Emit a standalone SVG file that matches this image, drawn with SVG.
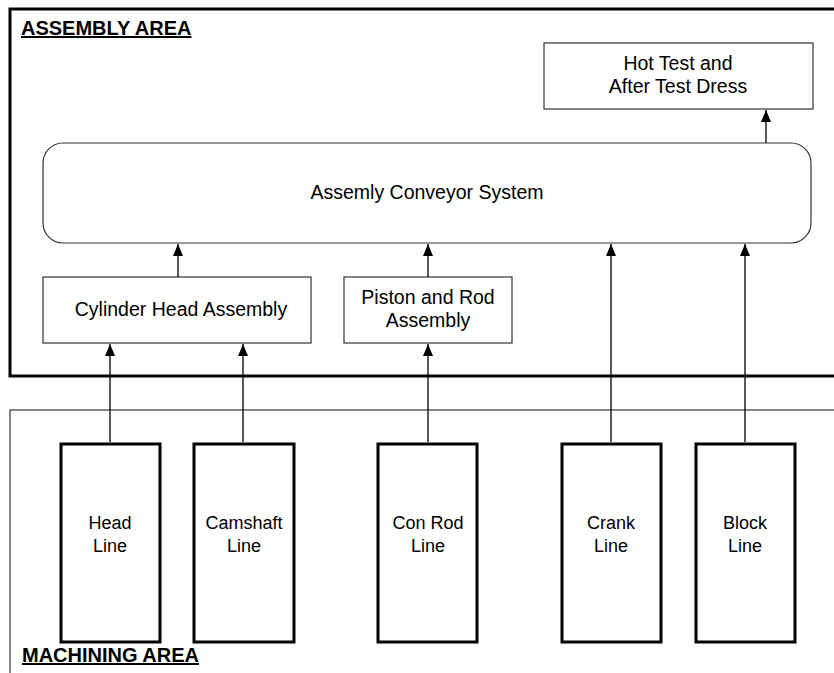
<svg xmlns="http://www.w3.org/2000/svg" width="834" height="673" viewBox="0 0 834 673">
  <style>
    text { font-family: "Liberation Sans", Arial, sans-serif; font-size: 19.5px; fill: #000; text-anchor: middle; }
    .title { font-weight: bold; font-size: 20px; text-anchor: start; text-decoration: underline; }
    .lbl { font-size: 18px; }
    .thin { fill: #fff; stroke: #333; stroke-width: 1.2; }
    .line-box { fill: #fff; stroke: #000; stroke-width: 3; }
    .conn { stroke: #000; stroke-width: 1.3; fill: none; marker-end: url(#arrow); }
  </style>
  <defs>
    <marker id="arrow" viewBox="0 0 12 10" refX="12" refY="5" markerWidth="12" markerHeight="10" markerUnits="userSpaceOnUse" orient="auto">
      <path d="M0,0 L12,5 L0,10 Z" fill="#000"/>
    </marker>
  </defs>
  <rect width="834" height="673" fill="#fff"/>

  <!-- zones -->
  <g id="assembly-area">
    <rect x="10" y="9" width="840" height="367" fill="none" stroke="#000" stroke-width="3"/>
    <text class="title" x="21" y="35">ASSEMBLY AREA</text>
  </g>
  <g id="machining-area">
    <rect x="10" y="410" width="840" height="280" fill="none" stroke="#444" stroke-width="1.3"/>
    <text class="title" x="22" y="662">MACHINING AREA</text>
  </g>

  <!-- assembly nodes -->
  <g id="hot-test">
    <rect class="thin" x="544" y="43" width="269" height="66"/>
    <text x="678" y="70">Hot Test and</text>
    <text x="678" y="93">After Test Dress</text>
  </g>
  <g id="conveyor">
    <rect class="thin" x="43" y="143" width="768" height="100" rx="20" ry="20"/>
    <text x="427" y="199">Assemly Conveyor System</text>
  </g>
  <g id="cylinder-head-assembly">
    <rect class="thin" x="43" y="277" width="268" height="66"/>
    <text x="181" y="316">Cylinder Head Assembly</text>
  </g>
  <g id="piston-rod-assembly">
    <rect class="thin" x="344" y="277" width="168" height="66"/>
    <text x="428" y="304">Piston and Rod</text>
    <text x="428" y="327">Assembly</text>
  </g>

  <!-- machining lines -->
  <g id="head-line">
    <rect class="line-box" x="61" y="444" width="99" height="198"/>
    <text class="lbl" x="110" y="529">Head</text>
    <text class="lbl" x="110" y="552">Line</text>
  </g>
  <g id="camshaft-line">
    <rect class="line-box" x="194" y="444" width="100" height="198"/>
    <text class="lbl" x="244" y="529">Camshaft</text>
    <text class="lbl" x="244" y="552">Line</text>
  </g>
  <g id="con-rod-line">
    <rect class="line-box" x="378" y="444" width="99" height="198"/>
    <text class="lbl" x="428" y="529">Con Rod</text>
    <text class="lbl" x="428" y="552">Line</text>
  </g>
  <g id="crank-line">
    <rect class="line-box" x="562" y="444" width="99" height="198"/>
    <text class="lbl" x="611" y="529">Crank</text>
    <text class="lbl" x="611" y="552">Line</text>
  </g>
  <g id="block-line">
    <rect class="line-box" x="696" y="444" width="99" height="198"/>
    <text class="lbl" x="745" y="529">Block</text>
    <text class="lbl" x="745" y="552">Line</text>
  </g>

  <!-- connectors -->
  <g id="connectors">
    <line class="conn" x1="110" y1="442" x2="110" y2="344"/>
    <line class="conn" x1="243" y1="442" x2="243" y2="344"/>
    <line class="conn" x1="428" y1="442" x2="428" y2="344"/>
    <line class="conn" x1="611" y1="442" x2="611" y2="244"/>
    <line class="conn" x1="745" y1="442" x2="745" y2="244"/>
    <line class="conn" x1="178" y1="277" x2="178" y2="244"/>
    <line class="conn" x1="428" y1="277" x2="428" y2="244"/>
    <line class="conn" x1="766" y1="143" x2="766" y2="110"/>
  </g>
</svg>
